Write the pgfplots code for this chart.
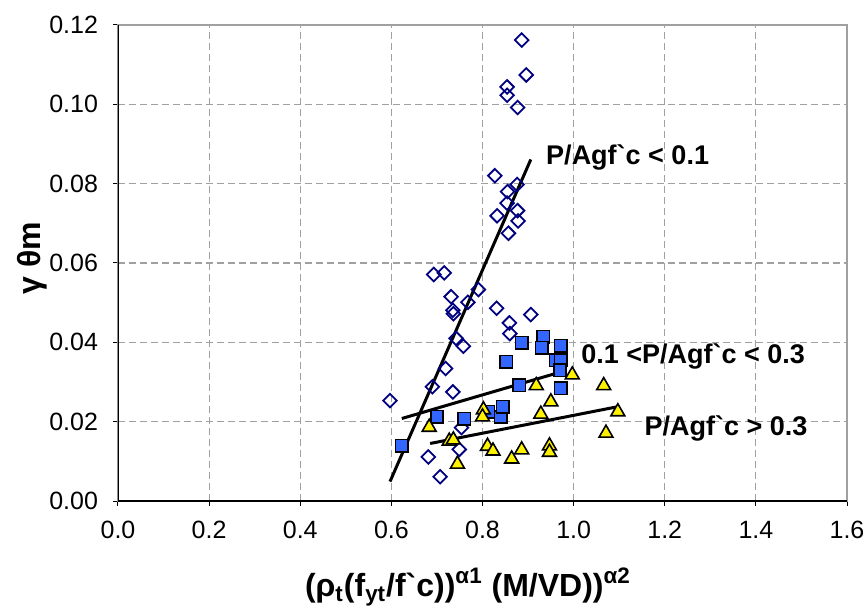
\documentclass[border=0pt]{standalone}
\usepackage{fontspec}
\setmainfont{Liberation Sans}[Ligatures=TeXOff]
\usepackage{pgfplots}
\pgfplotsset{compat=1.18}
\definecolor{navy}{RGB}{0,0,128}
\definecolor{sqblue}{RGB}{51,102,255}
\definecolor{gridgray}{RGB}{160,160,160}
\begin{document}
\begin{tikzpicture}
\path[use as bounding box] (-59pt,-54.5pt) rectangle (374pt,250.5pt);
\begin{axis}[
 scale only axis, width=364.5pt, height=238pt,
 at={(0,0)}, anchor=south west,
 xmin=0, xmax=1.6, ymin=0, ymax=0.12,
 xtick={0,0.2,0.4,0.6,0.8,1.0,1.2,1.4,1.6},
 ytick={0,0.02,0.04,0.06,0.08,0.10,0.12},
 scaled y ticks=false, scaled x ticks=false,
 xticklabel style={/pgf/number format/.cd, fixed, fixed zerofill, precision=1, /tikz/.cd, yshift=-4pt},
 yticklabel style={/pgf/number format/.cd, fixed, fixed zerofill, precision=2, /tikz/.cd, xshift=-4pt},
 /pgf/number format/assume math mode=true,
 ticklabel style={font=\fontsize{12.5}{14}\selectfont},
 tick align=outside, tick pos=left, major tick length=2.5pt,
 tick style={black, line width=0.5pt},
 grid=major,
 major grid style={gridgray, dash pattern=on 3.5pt off 2pt, line width=0.6pt},
 axis line style={gridgray, line width=0.8pt},
 xlabel={\bfseries\fontsize{16}{18}\selectfont (ρ\textsubscript{t}(f\textsubscript{yt}/f`c))\textsuperscript{α1} (M/VD))\textsuperscript{α2}},
 ylabel={\bfseries\fontsize{16}{18}\selectfont γ θm},
 xlabel style={at={(axis description cs:0.48,0)}, anchor=center, yshift=-43pt},
 ylabel style={at={(axis description cs:-0.118,0.51)}, anchor=center},
]
% P/Agf'c < 0.1
\addplot[only marks, mark=square, mark size=2.4pt,
  mark options={rotate=45, draw=navy, line width=0.9pt}] coordinates {
(0.597,0.0253) (0.681,0.0111) (0.707,0.0061) (0.749,0.0130) (0.754,0.0185)
(0.690,0.0288) (0.735,0.0275) (0.719,0.0334) (0.742,0.0410) (0.758,0.0390)
(0.736,0.0472) (0.735,0.0481) (0.731,0.0515) (0.693,0.0571) (0.716,0.0575)
(0.768,0.0501) (0.791,0.0533) (0.831,0.0486) (0.906,0.0470) (0.859,0.0449)
(0.860,0.0422) (0.857,0.0675) (0.832,0.0719) (0.878,0.0706) (0.877,0.0732)
(0.854,0.0751) (0.855,0.0780) (0.876,0.0798) (0.827,0.0820) (0.877,0.0992)
(0.854,0.1023) (0.854,0.1044) (0.896,0.1074) (0.886,0.1162)};
% 0.1 < P/Agf'c < 0.3
\addplot[only marks, mark=square*, mark size=3.1pt,
  mark options={fill=sqblue, draw=black, line width=0.8pt}] coordinates {
(0.623,0.0139) (0.700,0.0213) (0.760,0.0207) (0.813,0.0225) (0.840,0.0212)
(0.844,0.0238) (0.881,0.0292) (0.852,0.0351) (0.886,0.0399) (0.933,0.0414)
(0.930,0.0386) (0.972,0.0392) (0.961,0.0355) (0.972,0.0355) (0.970,0.0330)
(0.972,0.0284)};
% P/Agf'c > 0.3
\addplot[only marks, mark=triangle*, mark size=4pt,
  mark options={fill=yellow, draw=black, line width=0.8pt}] coordinates {
(0.683,0.0186) (0.727,0.0151) (0.736,0.0154) (0.745,0.0093) (0.802,0.0230)
(0.800,0.0212) (0.811,0.0138) (0.823,0.0126) (0.864,0.0106) (0.886,0.0129)
(0.918,0.0291) (0.928,0.0219) (0.950,0.0250) (0.947,0.0139) (0.947,0.0123)
(0.997,0.0318) (1.066,0.0291) (1.097,0.0225) (1.071,0.0171)};
% trend lines
\addplot[black, line width=1.5pt, no marks] coordinates {(0.597,0.0049) (0.906,0.0861)};
\addplot[black, line width=1.5pt, no marks] coordinates {(0.623,0.0208) (0.974,0.0326)};
\addplot[black, line width=1.5pt, no marks] coordinates {(0.685,0.0145) (1.098,0.0238)};
\draw[black, line width=0.8pt] (rel axis cs:0,1) -- (rel axis cs:0,0) -- (rel axis cs:1,0);
\node[anchor=base west, inner sep=0, font=\bfseries\fontsize{13.5}{16}\selectfont] at (axis cs:0.939,0.0849) {P/Agf`c < 0.1};
\node[anchor=base west, inner sep=0, font=\bfseries\fontsize{13.5}{16}\selectfont] at (axis cs:1.016,0.0347) {0.1 <P/Agf`c < 0.3};
\node[anchor=base west, inner sep=0, font=\bfseries\fontsize{13.5}{16}\selectfont] at (axis cs:1.155,0.0166) {P/Agf`c > 0.3};
\end{axis}
\end{tikzpicture}
\end{document}
